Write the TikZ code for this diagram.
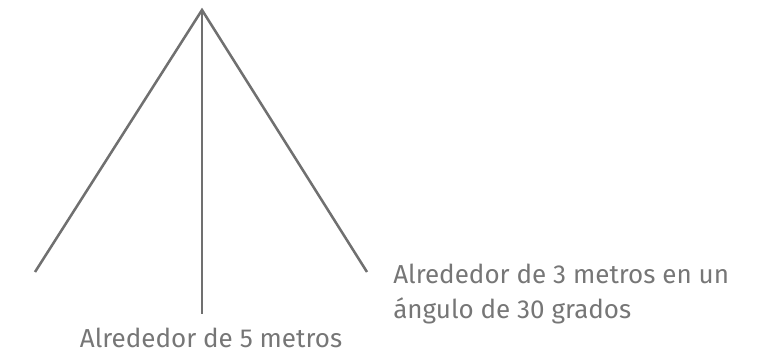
\documentclass[tikz,border=0pt]{standalone}
\usepackage{fontspec}
\setmainfont{Fira Sans}
\usetikzlibrary{positioning}
\definecolor{legGray}{HTML}{707070}
\definecolor{txtGray}{HTML}{767676}
\tikzset{
  leg/.style={draw=legGray, line width=1.9pt},
  lbl/.style={text=txtGray, font=\fontsize{19.5}{26.25}\selectfont, inner sep=0pt}
}

\begin{document}
\begin{tikzpicture}[x=0.75pt, y=-0.75pt]
            \useasboundingbox (0,0) rectangle (763,353);
            % Top point and feet
            \coordinate (top) at (202,10);
            \coordinate (leftFoot) at (35,272);
            \coordinate (midFoot) at (202,314);
            \coordinate (rightFoot) at (367,272);
            
            % Legs
            \draw[leg] (leftFoot) -- (top) -- (rightFoot);
            \draw[leg] (top) -- (midFoot);
            
            % Labels
            \node[lbl, anchor=base] (midLabel) at (211,347) {Alrededor de 5 metros};
            \node[lbl, anchor=base west, align=left] (rightLabel) at (393,318) {Alrededor de 3 metros en un\\ángulo de 30 grados};
        \end{tikzpicture}
\end{document}
